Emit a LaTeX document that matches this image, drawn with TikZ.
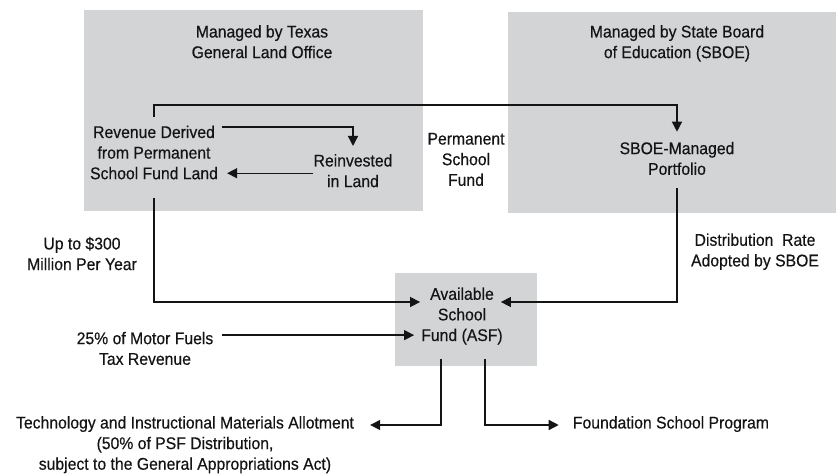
\documentclass[tikz,border=0pt]{standalone}
\usepackage{fontspec}
\setmainfont[FakeStretch=0.93,FakeBold=0.4]{Liberation Sans}
\usetikzlibrary{arrows.meta,calc}
\definecolor{panel}{RGB}{211,212,214}
\definecolor{ink}{RGB}{20,20,20}
\begin{document}
\begin{tikzpicture}[x=1bp,y=-1bp,
  txt/.style={align=center, anchor=north, text=ink, font=\fontsize{17}{20.7}\selectfont, inner sep=2bp},
  arr/.style={draw=ink, line width=1.4bp, -{Triangle[length=10bp,width=10bp]}}]
\useasboundingbox (0,0) rectangle (836,476);
% panels
\fill[panel] (84,10) rectangle (423,211);
\fill[panel] (508,12) rectangle (836,213);
\fill[panel] (395,273) rectangle (537,366);
% titles
\node[txt] (tleft) at (262,23) {Managed by Texas\\General Land Office};
\node[txt] (tright) at (677,23) {Managed by State Board\\of Education (SBOE)};
% nodes
\node[txt] (rev) at (154,123.5) {Revenue Derived\\from Permanent\\School Fund Land};
\node[txt] (reinv) at (353,152) {Reinvested\\in Land};
\node[txt] (psf) at (466,130.7) {Permanent\\School\\Fund};
\node[txt] (sboe) at (677,139.7) {SBOE-Managed\\Portfolio};
\node[txt] (up) at (82,234.7) {Up to \$300\\Million Per Year};
\node[txt] (dist) at (755,231.3) {Distribution~ Rate\\Adopted by SBOE};
\node[txt] (asf) at (462,285.3) {Available\\School\\Fund (ASF)};
\node[txt] (motor) at (145,329.7) {25\% of Motor Fuels\\Tax Revenue};
\node[txt] (tech) at (185,414) {Technology and Instructional Materials Allotment\\(50\% of PSF Distribution,\\subject to the General Appropriations Act)};
\node[txt, anchor=north west] (found) at (570.7,414) {Foundation School Program};
% connectors
\coordinate (ytop) at (0,105);
\draw[arr] ($(rev.north)+(0,-6)$) -- (rev.north |- ytop) -| ($(sboe.north)+(0,-8)$);
\draw[arr] ($(rev.north east)+(2,3.5)$) -| ($(reinv.north)+(0,-6)$);
\draw[arr] ($(reinv.west)+(2,2.5)$) -- ($(rev.east |- reinv.west)+(7,2.5)$);
\draw[arr] ($(rev.south)+(0,16)$) |- ($(asf.west)+(1,-14)$);
\draw[arr] ($(sboe.south)+(0,11)$) |- ($(asf.east)+(-4,-14)$);
\draw[arr] ($(motor.east)+(7,-13.3)$) -- ($(asf.west |- motor.east)+(-5,-13.3)$);
\draw[arr] ($(asf.south)+(-21,12.3)$) |- ($(tech.north east)+(14,11)$);
\draw[arr] ($(asf.south)+(23,12.3)$) |- ($(found.north west)+(-12,11)$);
\end{tikzpicture}
\end{document}
